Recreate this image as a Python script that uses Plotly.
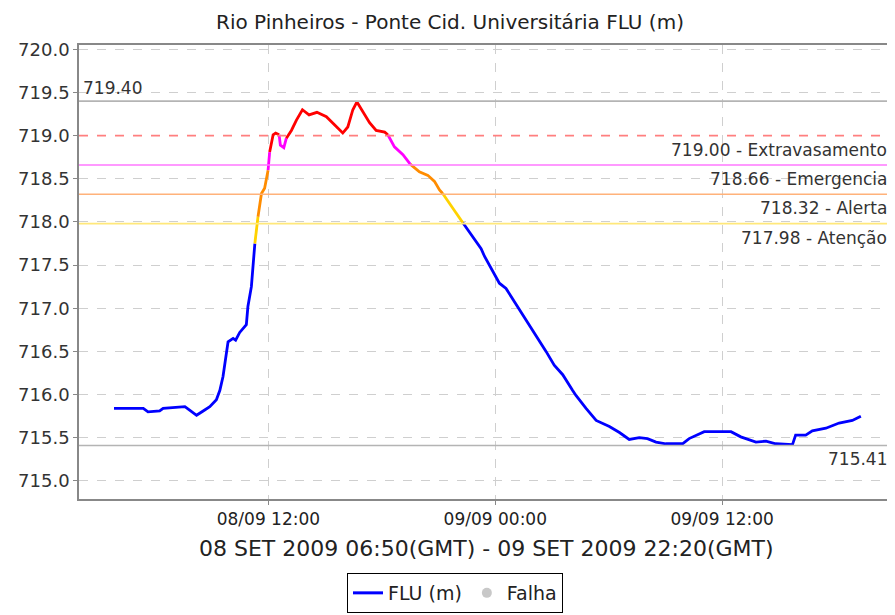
import plotly.graph_objects as go

# FLU level readings (local time GMT-3)
TIMES = [
    "2009-09-08 03:50", "2009-09-08 05:23", "2009-09-08 05:38", "2009-09-08 06:15",
    "2009-09-08 06:26", "2009-09-08 07:19", "2009-09-08 07:35", "2009-09-08 07:50",
    "2009-09-08 08:12", "2009-09-08 08:33", "2009-09-08 08:54", "2009-09-08 09:15",
    "2009-09-08 09:26", "2009-09-08 09:36", "2009-09-08 09:45", "2009-09-08 09:52",
    "2009-09-08 10:08", "2009-09-08 10:16", "2009-09-08 10:29", "2009-09-08 10:50",
    "2009-09-08 10:55", "2009-09-08 11:06", "2009-09-08 11:17", "2009-09-08 11:27",
    "2009-09-08 11:38", "2009-09-08 11:48", "2009-09-08 11:59", "2009-09-08 12:04",
    "2009-09-08 12:15", "2009-09-08 12:23", "2009-09-08 12:34", "2009-09-08 12:38",
    "2009-09-08 12:49", "2009-09-08 12:57", "2009-09-08 13:13", "2009-09-08 13:29",
    "2009-09-08 13:48", "2009-09-08 14:09", "2009-09-08 14:34", "2009-09-08 15:04",
    "2009-09-08 15:36", "2009-09-08 15:56", "2009-09-08 16:12", "2009-09-08 16:28",
    "2009-09-08 16:41", "2009-09-08 16:55", "2009-09-08 17:21", "2009-09-08 17:42",
    "2009-09-08 18:09", "2009-09-08 18:19", "2009-09-08 18:40", "2009-09-08 19:07",
    "2009-09-08 19:30", "2009-09-08 19:59", "2009-09-08 20:26", "2009-09-08 20:47",
    "2009-09-08 21:03", "2009-09-08 21:13", "2009-09-08 21:45", "2009-09-08 22:17",
    "2009-09-08 22:49", "2009-09-08 23:15", "2009-09-08 23:26", "2009-09-09 00:13",
    "2009-09-09 00:34", "2009-09-09 01:11", "2009-09-09 01:53", "2009-09-09 02:41",
    "2009-09-09 03:07", "2009-09-09 03:34", "2009-09-09 04:05", "2009-09-09 04:16",
    "2009-09-09 04:48", "2009-09-09 05:20", "2009-09-09 06:02", "2009-09-09 06:34",
    "2009-09-09 07:05", "2009-09-09 07:37", "2009-09-09 08:03", "2009-09-09 08:30",
    "2009-09-09 09:01", "2009-09-09 09:54", "2009-09-09 10:15", "2009-09-09 11:03",
    "2009-09-09 12:28", "2009-09-09 12:59", "2009-09-09 13:47", "2009-09-09 14:19",
    "2009-09-09 14:50", "2009-09-09 15:43", "2009-09-09 15:53", "2009-09-09 16:25",
    "2009-09-09 16:46", "2009-09-09 17:29", "2009-09-09 18:11", "2009-09-09 18:53",
    "2009-09-09 19:20",
]
LEVELS = [
    715.84, 715.84, 715.80, 715.81, 715.84, 715.85, 715.86, 715.82,
    715.76, 715.81, 715.86, 715.94, 716.05, 716.21, 716.44, 716.61,
    716.65, 716.63, 716.72, 716.81, 717.02, 717.25, 717.75, 718.06,
    718.33, 718.39, 718.60, 718.81, 719.01, 719.03, 719.01, 718.89,
    718.86, 718.97, 719.06, 719.18, 719.30, 719.24, 719.27, 719.22,
    719.10, 719.03, 719.10, 719.30, 719.39, 719.30, 719.15, 719.06,
    719.04, 719.01, 718.87, 718.78, 718.67, 718.58, 718.54, 718.47,
    718.37, 718.33, 718.16, 717.99, 717.83, 717.69, 717.60, 717.29,
    717.23, 717.02, 716.77, 716.50, 716.34, 716.23, 716.05, 715.99,
    715.84, 715.70, 715.63, 715.56, 715.48, 715.50, 715.49, 715.45,
    715.43, 715.43, 715.49, 715.57, 715.57, 715.51, 715.45, 715.46,
    715.43, 715.42, 715.53, 715.53, 715.58, 715.61, 715.67, 715.70,
    715.75,
]

# alarm thresholds
THRESH_VALUES = [717.98, 718.32, 718.66, 719.00]
THRESH_LABELS = ["717.98 - Atenção", "718.32 - Alerta", "718.66 - Emergencia", "719.00 - Extravasamento"]
THRESH_LINE_COLORS = ["#ffe87a", "#ffb27a", "#ff77ff", "#ff7f7f"]
SEG_COLORS = ["#0000ff", "#ffd200", "#ff8c00", "#ff00ff", "#ff0000"]
MAX_REF = 719.40
MIN_REF = 715.41

X_TICKS = ["2009-09-08 12:00", "2009-09-09 00:00", "2009-09-09 12:00"]
X_TICK_TEXT = ["08/09 12:00", "09/09 00:00", "09/09 12:00"]

FONT = "DejaVu Sans"
# page body has an 8px margin, so the figure is shrunk to fit the window
W, H = 887, 607


def level_of(v):
    return sum(1 for t in THRESH_VALUES if v > t)


# each segment takes the colour of its end point
seg_x = [[] for _ in SEG_COLORS]
seg_y = [[] for _ in SEG_COLORS]
prev = None
for i in range(1, len(TIMES)):
    lv = level_of(LEVELS[i])
    if lv != prev:
        if seg_x[lv]:
            seg_x[lv].append(None)
            seg_y[lv].append(None)
        seg_x[lv] += [TIMES[i - 1], TIMES[i]]
        seg_y[lv] += [LEVELS[i - 1], LEVELS[i]]
    else:
        seg_x[lv].append(TIMES[i])
        seg_y[lv].append(LEVELS[i])
    prev = lv

fig = go.Figure()
for lv, color in enumerate(SEG_COLORS):
    fig.add_trace(go.Scatter(
        x=seg_x[lv], y=seg_y[lv], mode="lines",
        line=dict(color=color, width=2.8),
        showlegend=False, hoverinfo="skip",
    ))

fig.add_trace(go.Scatter(x=[None], y=[None], mode="lines", name="FLU (m)",
                         line=dict(color="#0000ff", width=3)))
fig.add_trace(go.Scatter(x=[None], y=[None], mode="markers", name="Falha",
                         marker=dict(color="#c8c8c8", size=10)))

label_font = dict(family=FONT, size=17, color="#333333")
shapes = []
annotations = []
for v, lab, col in zip(THRESH_VALUES, THRESH_LABELS, THRESH_LINE_COLORS):
    shapes.append(dict(type="line", xref="paper", x0=0, x1=1, yref="y", y0=v, y1=v,
                       line=dict(color=col, width=1.6,
                                 dash="dash" if v == 719.00 else "solid")))
    annotations.append(dict(x=1, xref="paper", xanchor="right", xshift=-4,
                            y=v, yref="y", yanchor="top", yshift=-2,
                            text=lab, showarrow=False, font=label_font))

for v in (MAX_REF, MIN_REF):
    shapes.append(dict(type="line", xref="paper", x0=0, x1=1, yref="y", y0=v, y1=v,
                       line=dict(color="#b4b4b4", width=1.6)))
annotations.append(dict(x=0, xref="paper", xanchor="left", xshift=2,
                        y=MAX_REF, yref="y", yanchor="bottom", yshift=1,
                        text=f"{MAX_REF:.2f}", showarrow=False, font=label_font))
annotations.append(dict(x=1, xref="paper", xanchor="right", xshift=-4,
                        y=MIN_REF, yref="y", yanchor="top", yshift=-2,
                        text=f"{MIN_REF:.2f}", showarrow=False, font=label_font))

annotations.append(dict(x=0.5, xref="paper", xanchor="center",
                        y=-0.108, yref="paper", yanchor="middle",
                        text="08 SET 2009 06:50(GMT) - 09 SET 2009 22:20(GMT)",
                        showarrow=False,
                        font=dict(family=FONT, size=22, color="#222222")))

fig.update_layout(
    width=W, height=H,
    margin=dict(l=71, r=0, t=37, b=116),
    paper_bgcolor="white", plot_bgcolor="white",
    title=dict(text="Rio Pinheiros - Ponte Cid. Universitária FLU (m)",
               x=442 / W, xanchor="center", y=1 - 14 / H, yanchor="middle",
               font=dict(family=FONT, size=20, color="#222222")),
    shapes=shapes,
    annotations=annotations,
    showlegend=True,
    legend=dict(orientation="h", xref="container", yref="container",
                x=447 / W, xanchor="center", y=2 / H, yanchor="bottom",
                bordercolor="#000000", borderwidth=1, bgcolor="white",
                font=dict(family=FONT, size=19, color="#222222")),
)

fig.update_xaxes(
    type="date", range=["2009-09-08 01:59", "2009-09-09 21:02"],
    tickvals=X_TICKS, ticktext=X_TICK_TEXT,
    ticks="outside", ticklen=4, tickcolor="#888888",
    tickfont=dict(family=FONT, size=17, color="#222222"),
    showgrid=True, gridcolor="#cfcfcf", griddash="dash", gridwidth=1,
    showline=True, linecolor="#888888", linewidth=1.5, mirror=True,
    zeroline=False,
)
fig.update_yaxes(
    range=[714.79, 720.05], tick0=715.0, dtick=0.5, tickformat=".1f",
    ticks="outside", ticklen=4, tickcolor="#888888",
    tickfont=dict(family=FONT, size=18, color="#333333"),
    showgrid=True, gridcolor="#cfcfcf", griddash="dash", gridwidth=1,
    showline=True, linecolor="#888888", linewidth=1.5, mirror=True,
    zeroline=False,
)

fig.write_html("out.html")
